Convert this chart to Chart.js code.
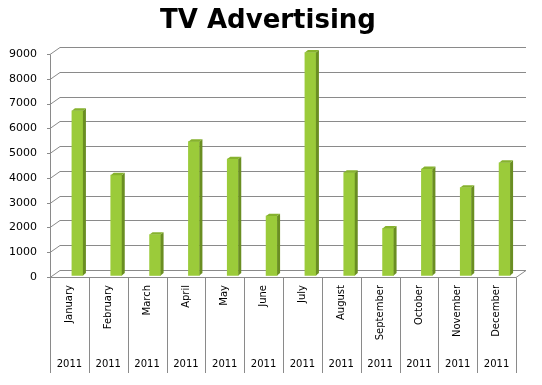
<!DOCTYPE html>
<html>
<head>
<meta charset="utf-8">
<script src="https://cdn.jsdelivr.net/npm/chart.js@4/dist/chart.umd.min.js"></script>
<style>
html,body{margin:0;padding:0;background:#fff;}
#wrap{width:542px;height:385px;}
</style>
</head>
<body>
<div id="wrap"><canvas id="c" width="542" height="385"></canvas></div>
<script>
const chartTitle = 'TV Advertising';
const months = ['January','February','March','April','May','June','July','August','September','October','November','December'];
const years = ['2011','2011','2011','2011','2011','2011','2011','2011','2011','2011','2011','2011'];
const tvValues = [6650, 4050, 1650, 5400, 4700, 2400, 9000, 4150, 1900, 4300, 3550, 4550];
const yTicks = [0,1000,2000,3000,4000,5000,6000,7000,8000,9000];

const DX = 10, DY = -7;          // back-wall depth
const BX = 8, BY = -1.5;         // bar depth shift
const SX = 3, SY = -2.4;         // bar 3D side
const GRID = '#8a8a8a';

const deco = {
  id: 'deco',
  beforeDatasetsDraw(chart) {
    const ctx = chart.ctx, ys = chart.scales.y, xs = chart.scales.x, x2 = chart.scales.x2;
    const a = chart.chartArea;
    ctx.save();
    ctx.strokeStyle = GRID; ctx.lineWidth = 1;
    ctx.beginPath();
    yTicks.forEach(v => {
      const y = Math.round(ys.getPixelForValue(v)) + 0.5;
      ctx.moveTo(a.left - 3, y); ctx.lineTo(a.left, y);
      ctx.lineTo(a.left + DX, y + DY); ctx.lineTo(a.right + DX, y + DY);
    });
    const yTop = Math.round(ys.getPixelForValue(yTicks[yTicks.length-1])) + 0.5;
    const y0 = Math.round(ys.getPixelForValue(0)) + 0.5;
    ctx.moveTo(a.left + 0.5, yTop); ctx.lineTo(a.left + 0.5, y0);
    ctx.moveTo(a.left, y0); ctx.lineTo(a.right, y0); ctx.lineTo(a.right + DX, y0 + DY);
    const bottom = x2.bottom;
    for (let i = 0; i <= months.length; i++) {
      const x = Math.round(xs.getPixelForValue(i - 0.5)) + 0.5;
      ctx.moveTo(x, y0); ctx.lineTo(x, bottom);
    }
    ctx.stroke();
    ctx.restore();
    ctx.save();
    ctx.translate(BX, BY);
  },
  afterDatasetsDraw(chart) {
    const ctx = chart.ctx;
    const meta = chart.getDatasetMeta(0);
    meta.data.forEach(el => {
      const p = el.getProps(['x','y','base','width'], true);
      const l = p.x - p.width/2, r = p.x + p.width/2;
      ctx.fillStyle = '#6a8e22';
      ctx.beginPath();
      ctx.moveTo(r, p.y); ctx.lineTo(r + SX, p.y + SY); ctx.lineTo(r + SX, p.base + SY); ctx.lineTo(r, p.base);
      ctx.closePath(); ctx.fill();
      ctx.fillStyle = '#86b22e';
      ctx.beginPath();
      ctx.moveTo(l, p.y); ctx.lineTo(l + SX, p.y + SY); ctx.lineTo(r + SX, p.y + SY); ctx.lineTo(r, p.y);
      ctx.closePath(); ctx.fill();
    });
    ctx.restore();
  },
  afterDraw(chart) {
    const ctx = chart.ctx;
    ctx.save();
    ctx.fillStyle = '#000';
    ctx.font = 'bold 26px "DejaVu Sans"';
    ctx.textAlign = 'center';
    ctx.textBaseline = 'alphabetic';
    ctx.fillText(chartTitle, 268, 28);
    ctx.restore();
  }
};

new Chart(document.getElementById('c'), {
  type: 'bar',
  data: {
    labels: months,
    datasets: [{
      label: chartTitle,
      data: tvValues,
      backgroundColor: '#9bcb3a',
      borderWidth: 0,
      barThickness: 11,
      clip: false
    }]
  },
  options: {
    responsive: false,
    animation: false,
    layout: { padding: { left: 0, right: 26, top: 54, bottom: 12 } },
    plugins: {
      legend: { display: false },
      tooltip: { enabled: false },
      title: { display: false }
    },
    scales: {
      x: {
        type: 'category',
        offset: true,
        weight: 0,
        grid: { display: false, drawTicks: false },
        border: { display: false },
        ticks: {
          color: '#000', font: { family: 'DejaVu Sans', size: 10 },
          minRotation: 90, maxRotation: 90, padding: 8, autoSkip: false
        },
        afterFit(s) { s.height = 72; }
      },
      x2: {
        type: 'category',
        labels: years,
        position: 'bottom',
        offset: true,
        weight: 1,
        grid: { display: false, drawTicks: false },
        border: { display: false },
        ticks: { color: '#000', font: { family: 'DejaVu Sans', size: 10 }, padding: 9, autoSkip: false, maxRotation: 0 },
        afterFit(s) { s.height = 24; }
      },
      y: {
        min: 0, max: 9000,
        grid: { display: false, drawTicks: false },
        border: { display: false },
        ticks: {
          stepSize: 1000, color: '#000', font: { family: 'DejaVu Sans', size: 11 }, padding: 13,
          callback: v => String(v)
        },
        afterFit(s) { s.width = 50; }
      }
    }
  },
  plugins: [deco]
});
</script>
</body>
</html>
